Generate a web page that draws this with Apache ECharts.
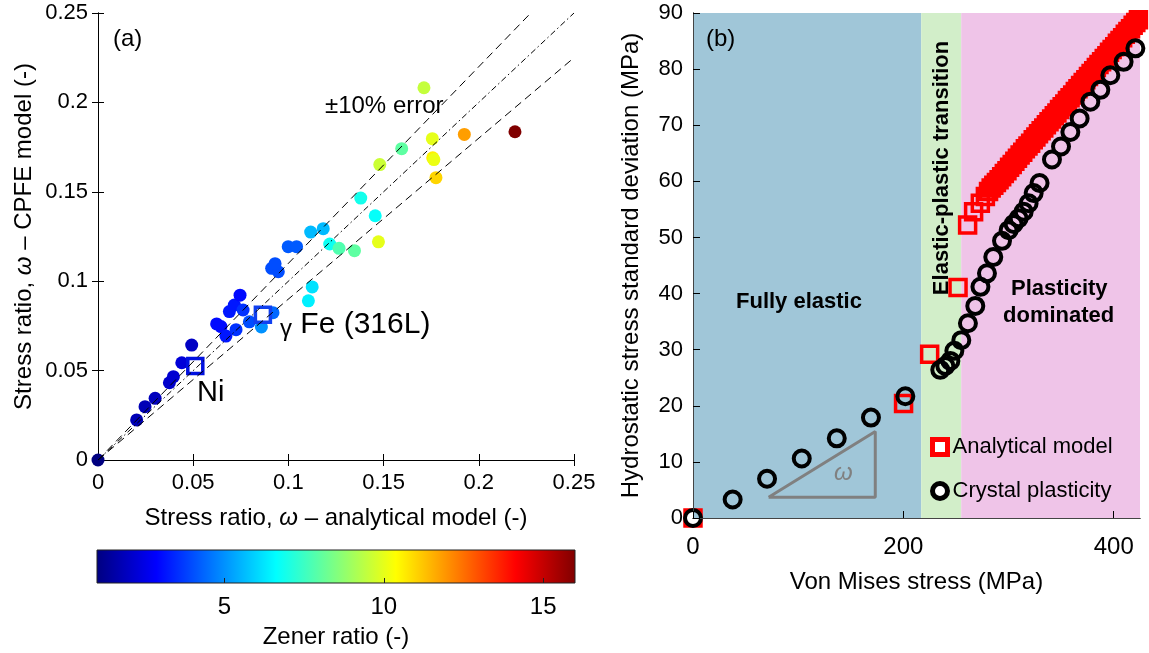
<!DOCTYPE html>
<html><head><meta charset="utf-8">
<script src="https://cdn.jsdelivr.net/npm/echarts@6/dist/echarts.min.js"></script>
<style>html,body{margin:0;padding:0;background:#fff}#c{width:1149px;height:653px}</style>
</head><body><div id="c"></div>
<script>
const FONT = 'Liberation Sans, Arial, sans-serif';

// ---------- Panel (a) data: [analytical ratio, CPFE ratio, Zener ratio]
const scatterPoints = [
  [0,0,1.0],[0.0203,0.0224,1.8],[0.0247,0.0298,1.8],[0.0300,0.0345,1.9],
  [0.0375,0.0432,2.1],[0.0396,0.0466,2.2],[0.0440,0.0544,2.3],[0.0492,0.0643,2.0],
  [0.0623,0.0761,3.0],[0.0646,0.0746,3.0],[0.0672,0.0693,3.2],[0.0690,0.0830,3.2],
  [0.0716,0.0867,3.2],[0.0746,0.0922,3.0],[0.0762,0.0839,3.6],[0.0725,0.0729,3.6],
  [0.0795,0.0773,4.0],[0.0858,0.0744,5.0],[0.0919,0.0824,4.4],[0.0912,0.1072,4.0],
  [0.0947,0.1053,4.0],[0.0930,0.1098,4.0],[0.0999,0.1193,4.2],[0.1043,0.1193,4.2],
  [0.1125,0.0968,6.2],[0.1105,0.0890,6.4],[0.1117,0.1275,5.6],[0.1183,0.1294,5.6],
  [0.1217,0.1208,6.8],[0.1266,0.1184,7.8],[0.1347,0.1171,8.0],[0.1380,0.1465,6.9],
  [0.1456,0.1366,6.7],[0.1473,0.1220,10.0],[0.1480,0.1652,9.6],[0.1595,0.1741,8.0],
  [0.1712,0.2082,9.5],[0.1756,0.1797,10.0],[0.1758,0.1690,10.6],[0.1764,0.1680,10.1],
  [0.1775,0.1579,11.0],[0.1924,0.1821,11.8],[0.2190,0.1836,16.0]
];
const niPoint = [[0.0511,0.0526]];
const fePoint = [[0.0866,0.0813]];
const parityLine = [[0,0],[0.25,0.25]];
const plus10Line = [[0,0],[0.2273,0.25]];
const minus10Line = [[0,0],[0.25,0.225]];
const ratioRange = [0, 0.25];
const ratioStep = 0.05;

// ---------- Colorbar
const zenerRange = [1, 16];
const zenerTicks = [5, 10, 15];
const jetColors = ['#000080','#0000ff','#0080ff','#00ffff','#80ff80','#ffff00','#ff8000','#ff0000','#800000'];

// ---------- Panel (b) data: [Von Mises stress, hydrostatic std dev]
const analyticalModel = [
  [0,0],[200.2,20.4],[225,29.2],[252,41.1],[261.1,52.2],[266.8,54.6],[273.2,56.1],[278,57.3],[281,58.2],
  [283.5,58.8],[286,59.3],[288.5,59.8],[291,60.3],[293.5,60.8],[296,61.4],[298.5,61.9],[301,62.5],
  [303.5,63.0],[306,63.6],[308.5,64.1],[311,64.7],[313.5,65.2],[316,65.8],[318.5,66.3],[321,66.8],
  [323.5,67.4],[326,67.9],[328.5,68.5],[331,69.0],[333.5,69.5],[336,70.1],[338.5,70.6],[341,71.1],
  [343.5,71.7],[346,72.2],[348.5,72.8],[351,73.3],[353.5,73.8],[356,74.4],[358.5,74.9],[361,75.4],
  [363.5,76.0],[366,76.5],[368.5,77.1],[371,77.6],[373.5,78.1],[376,78.7],[378.5,79.2],[381,79.7],
  [383.5,80.3],[386,80.8],[388.5,81.3],[391,81.9],[393.5,82.4],[396,83.0],[398.5,83.5],[401,84.0],
  [403.5,84.6],[406,85.1],[408.5,85.6],[411,86.2],[413.5,86.7],[416,87.2],[418.5,87.8],[421,88.3],[423.5,88.8]
];
const crystalPlasticity = [
  [0,0],[37.7,3.3],[70.4,7.0],[103.4,10.6],[136.7,14.2],[169.2,17.9],[201.9,21.7],[235.1,26.4],
  [239.9,27.1],[244.7,28.0],[248.5,29.8],[255.1,31.7],[261.4,34.7],[268.4,37.8],[273.3,41.2],
  [279.5,43.6],[285.5,46.5],[293.8,49.4],[300.1,51.3],[304.8,52.4],[309.6,53.4],[314.4,54.6],
  [319.1,56.1],[323.9,57.9],[329.5,59.7],[341.3,63.9],[349.9,66.2],[358.8,68.8],[367.6,71.2],
  [377.8,74.2],[387.3,76.3],[396.8,78.9],[409.4,81.3],[420.6,83.7]
];
const regimeBounds = [0, 217, 255, 425];
const regimeColors = ['#a0c6d8', '#d2eec9', '#efc4e8'];
const omegaTriangle = [[71.9,3.7],[173.3,15.4],[173.3,3.7],[71.9,3.7]];
const vmTicks = [0, 200, 400];
const sdRange = [0, 90];
const sdStep = 10;

// ---------- Chart
const chart = echarts.init(document.getElementById('c'), null, {renderer: 'canvas'});
const lbl = (size, margin, extra) => Object.assign({color:'#000', fontFamily: FONT, fontSize: size, margin: margin}, extra || {});
const axLine = {show: true, lineStyle: {color: '#000', width: 1}};

const jetStops = jetColors.map((c, i) => ({offset: i / (jetColors.length - 1), color: c}));

const option = {
  animation: false,
  backgroundColor: '#fff',
  textStyle: {fontFamily: FONT},
  grid: [
    {left: 98, top: 13, width: 476, height: 447},
    {left: 693, top: 13, width: 447, height: 505},
    {left: 97, top: 550, width: 478, height: 33}
  ],
  visualMap: [{
    type: 'continuous', show: false, min: zenerRange[0], max: zenerRange[1],
    dimension: 2, seriesIndex: 0, inRange: {color: jetColors}
  }],
  xAxis: [
    {gridIndex: 0, type: 'value', min: ratioRange[0], max: ratioRange[1], interval: ratioStep, position: 'bottom',
     axisLine: axLine, axisTick: {inside: true, length: 6, lineStyle: {color: '#000'}},
     axisLabel: lbl(22, 12), splitLine: {show: false},
     name: 'Stress ratio, {i|ω} – analytical model (-)', nameLocation: 'middle', nameGap: 46,
     nameTextStyle: {color: '#000', fontFamily: FONT, fontSize: 24, rich: {i: {fontStyle: 'italic', fontSize: 24, fontFamily: FONT}}}},
    {gridIndex: 0, type: 'value', min: ratioRange[0], max: ratioRange[1], interval: ratioStep, position: 'top',
     axisLine: axLine, axisTick: {inside: true, length: 6, lineStyle: {color: '#000'}},
     axisLabel: {show: false}, splitLine: {show: false}},
    {gridIndex: 1, type: 'value', min: regimeBounds[0], max: regimeBounds[3], position: 'bottom', z: 10,
     axisLine: axLine, axisTick: {inside: true, length: 7, customValues: vmTicks, lineStyle: {color: '#000'}},
     axisLabel: lbl(24, 17, {customValues: vmTicks}), splitLine: {show: false},
     name: 'Von Mises stress (MPa)', nameLocation: 'middle', nameGap: 52,
     nameTextStyle: {color: '#000', fontFamily: FONT, fontSize: 24}},
    {gridIndex: 1, type: 'value', min: regimeBounds[0], max: regimeBounds[3], position: 'top', z: 10,
     axisLine: {show: true, lineStyle: {color: '#444', width: 1}}, axisTick: {show: false},
     axisLabel: {show: false}, splitLine: {show: false}},
    {gridIndex: 2, type: 'value', min: zenerRange[0], max: zenerRange[1], position: 'bottom', z: 10,
     axisLine: {show: false}, axisTick: {inside: true, length: 5, customValues: zenerTicks, lineStyle: {color: '#222'}},
     axisLabel: lbl(24, 12, {customValues: zenerTicks}), splitLine: {show: false},
     name: 'Zener ratio (-)', nameLocation: 'middle', nameGap: 42,
     nameTextStyle: {color: '#000', fontFamily: FONT, fontSize: 24}}
  ],
  yAxis: [
    {gridIndex: 0, type: 'value', min: ratioRange[0], max: ratioRange[1], interval: ratioStep, position: 'left',
     axisLine: axLine, axisTick: {inside: true, length: 6, lineStyle: {color: '#000'}},
     axisLabel: lbl(22, 10), splitLine: {show: false},
     name: 'Stress ratio, {i|ω} – CPFE model (-)', nameLocation: 'middle', nameGap: 62,
     nameTextStyle: {color: '#000', fontFamily: FONT, fontSize: 24, rich: {i: {fontStyle: 'italic', fontSize: 24, fontFamily: FONT}}}},
    {gridIndex: 0, type: 'value', min: ratioRange[0], max: ratioRange[1], interval: ratioStep, position: 'right',
     axisLine: axLine, axisTick: {inside: true, length: 6, lineStyle: {color: '#000'}},
     axisLabel: {show: false}, splitLine: {show: false}},
    {gridIndex: 1, type: 'value', min: sdRange[0], max: sdRange[1], interval: sdStep, position: 'left', z: 10,
     axisLine: axLine, axisTick: {inside: true, length: 7, lineStyle: {color: '#000'}},
     axisLabel: lbl(22, 10), splitLine: {show: false},
     name: 'Hydrostatic stress standard deviation (MPa)', nameLocation: 'middle', nameGap: 50,
     nameTextStyle: {color: '#000', fontFamily: FONT, fontSize: 24}},
    {gridIndex: 1, type: 'value', min: sdRange[0], max: sdRange[1], position: 'right', z: 10,
     axisLine: {show: true, lineStyle: {color: '#444', width: 1}}, axisTick: {show: false},
     axisLabel: {show: false}, splitLine: {show: false}},
    {gridIndex: 2, type: 'value', min: 0, max: 1, show: false}
  ],
  legend: {
    orient: 'vertical', left: 925, top: 431, itemWidth: 15, itemHeight: 15, itemGap: 22, z: 20,
    textStyle: {color: '#000', fontFamily: FONT, fontSize: 22},
    data: [
      {name: 'Analytical model', icon: 'rect', itemStyle: {color: '#fff', borderColor: '#ff0000', borderWidth: 5, opacity: 1}},
      {name: 'Crystal plasticity', icon: 'circle', itemStyle: {color: '#fff', borderColor: '#000', borderWidth: 5, opacity: 1}}
    ]
  },
  series: [
    {type: 'scatter', xAxisIndex: 0, yAxisIndex: 0, data: scatterPoints, symbolSize: 13, clip: false, z: 2,
     itemStyle: {opacity: 1}},
    {type: 'scatter', xAxisIndex: 0, yAxisIndex: 0, data: niPoint, symbol: 'rect', symbolSize: 15, clip: false, z: 3,
     itemStyle: {color: 'rgba(255,255,255,0)', borderColor: '#0010e0', borderWidth: 3.5, opacity: 1}},
    {type: 'scatter', xAxisIndex: 0, yAxisIndex: 0, data: fePoint, symbol: 'rect', symbolSize: 15, clip: false, z: 3,
     itemStyle: {color: '#ffffff', borderColor: '#1040f0', borderWidth: 3.5, opacity: 1}},
    {type: 'line', xAxisIndex: 0, yAxisIndex: 0, data: parityLine, symbol: 'none', z: 4, silent: true,
     lineStyle: {color: '#000', width: 1, type: [6, 3, 1.5, 3]}},
    {type: 'line', xAxisIndex: 0, yAxisIndex: 0, data: plus10Line, symbol: 'none', z: 4, silent: true,
     lineStyle: {color: '#000', width: 1, type: [8, 5]}},
    {type: 'line', xAxisIndex: 0, yAxisIndex: 0, data: minus10Line, symbol: 'none', z: 4, silent: true,
     lineStyle: {color: '#000', width: 1, type: [8, 5]}},
    {type: 'custom', xAxisIndex: 4, yAxisIndex: 4, data: [zenerRange], z: 1, silent: true,
     renderItem: function (params, api) {
       const p0 = api.coord([zenerRange[0], 0]);
       const p1 = api.coord([zenerRange[1], 1]);
       return {type: 'rect', shape: {x: p0[0], y: p1[1], width: p1[0] - p0[0], height: p0[1] - p1[1]},
               style: {fill: new echarts.graphic.LinearGradient(0, 0, 1, 0, jetStops), stroke: '#222', lineWidth: 1}};
     }},
    {type: 'line', xAxisIndex: 2, yAxisIndex: 2, data: [], z: 1, silent: true,
     markArea: {silent: true, data: [
       [{xAxis: regimeBounds[0], itemStyle: {color: regimeColors[0], opacity: 1}}, {xAxis: regimeBounds[1]}],
       [{xAxis: regimeBounds[1], itemStyle: {color: regimeColors[1], opacity: 1}}, {xAxis: regimeBounds[2]}],
       [{xAxis: regimeBounds[2], itemStyle: {color: regimeColors[2], opacity: 1}}, {xAxis: regimeBounds[3]}]
     ]}},
    {type: 'line', xAxisIndex: 2, yAxisIndex: 2, data: omegaTriangle, symbol: 'none', z: 2, silent: true,
     lineStyle: {color: '#808080', width: 3}},
    {name: 'Analytical model', type: 'scatter', xAxisIndex: 2, yAxisIndex: 2, data: analyticalModel,
     symbol: 'rect', symbolSize: 16, clip: false, z: 3,
     itemStyle: {color: 'rgba(255,255,255,0)', borderColor: '#ff0000', borderWidth: 3.5, opacity: 1}},
    {name: 'Crystal plasticity', type: 'scatter', xAxisIndex: 2, yAxisIndex: 2, data: crystalPlasticity,
     symbol: 'circle', symbolSize: 16, clip: false, z: 4,
     itemStyle: {color: 'rgba(255,255,255,0)', borderColor: '#000', borderWidth: 4, opacity: 1}}
  ],
  graphic: [
    {type: 'text', z: 100, left: 113, top: 27, style: {text: '(a)', fill: '#000', font: '24px ' + FONT}},
    {type: 'text', z: 100, left: 325, top: 94, style: {text: '±10% error', fill: '#000', font: '24px ' + FONT}},
    {type: 'text', z: 100, left: 280, top: 310, style: {text: '{g|γ} Fe (316L)', fill: '#000', font: '30px ' + FONT,
      rich: {g: {fontSize: 24, fontFamily: FONT, fill: '#000', padding: [8, 0, 0, 0]}}}},
    {type: 'text', z: 100, left: 197, top: 378, style: {text: 'Ni', fill: '#000', font: '29px ' + FONT}},
    {type: 'text', z: 100, left: 706, top: 27, style: {text: '(b)', fill: '#000', font: '24px ' + FONT}},
    {type: 'text', z: 100, left: 736, top: 291, style: {text: 'Fully elastic', fill: '#000', font: 'bold 22px ' + FONT}},
    {type: 'text', z: 100, left: 1011, top: 278, style: {text: 'Plasticity', fill: '#000', font: 'bold 22px ' + FONT}},
    {type: 'text', z: 100, left: 1003, top: 305, style: {text: 'dominated', fill: '#000', font: 'bold 22px ' + FONT}},
    {type: 'text', z: 100, x: 942, y: 168, rotation: Math.PI / 2,
     style: {text: 'Elastic-plastic transition', x: 0, y: 0, fill: '#000', font: 'bold 22px ' + FONT,
             align: 'center', verticalAlign: 'middle', textAlign: 'center', textVerticalAlign: 'middle'}},
    {type: 'text', z: 100, left: 834, top: 461, style: {text: 'ω', fill: '#808080', font: 'italic 24px ' + FONT}}
  ]
};
chart.setOption(option);
</script></body></html>
